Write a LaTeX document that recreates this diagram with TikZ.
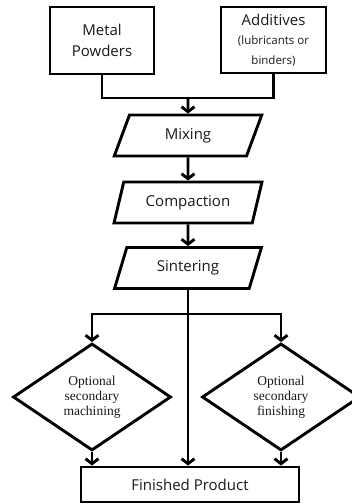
\documentclass[tikz,border=0pt]{standalone}
\usepackage{fontspec}
\setmainfont{Open Sans}
\newfontfamily\diafont{Liberation Serif}
\usetikzlibrary{arrows.meta,shapes.geometric}

\begin{document}
\begin{tikzpicture}[
  x=1pt,y=-1pt,
  line width=2.9pt,
  >={Straight Barb[length=5pt,width=13pt]},
  every node/.style={text=black!90},
  srcbox/.style={draw,align=center,inner sep=2pt,
                 font=\fontsize{15}{21}\selectfont},
  stepbox/.style={draw,trapezium,trapezium left angle=72,
                  trapezium right angle=108,trapezium stretches=true,
                  minimum width=148pt,minimum height=41pt,
                  font=\fontsize{15}{18}\selectfont},
  optbox/.style={draw,diamond,aspect=1.48,inner sep=0pt,
                 minimum width=158pt,minimum height=107pt,align=center,
                 font=\diafont\fontsize{13.5}{15}\selectfont},
]
\useasboundingbox (0,0) rectangle (352,504);

% ---- top: the two inputs ----
\node[srcbox,minimum width=104pt,minimum height=67pt] (metal) at (102,40.5)
     {Metal\\Powders};
\node[srcbox,minimum width=105pt,minimum height=66pt] (addit) at (273.5,40)
     {Additives\\[-2pt]
      \fontsize{11.5}{18}\selectfont (lubricants or\\[-1pt]
      \fontsize{11.5}{18}\selectfont binders)};

% ---- middle: the main process steps ----
\node[stepbox] (mix)  at (188,135.5) {Mixing};
\node[stepbox] (comp) at (188,202.5) {Compaction};
\node[stepbox] (sint) at (188,268)   {Sintering};

% ---- bottom: optional operations and the product ----
\node[optbox] (mach)   at (92,397)  {Optional\\secondary\\machining};
\node[optbox] (finish) at (281,397) {Optional\\secondary\\finishing};
\node[srcbox,minimum width=218pt,minimum height=35pt] (product) at (190,484.5)
     {Finished Product};

% inputs merge into mixing
\coordinate (merge) at (188,98);
\draw (metal.south) |- (merge) -| (addit.south);
\draw[->] (merge) -- (mix);

% main chain
\draw[->] (mix) -- (comp);
\draw[->] (comp) -- (sint);

% sintering splits three ways
\coordinate (split) at (188,314);
\draw (sint) -- (split);
\draw[->] (split) -| (mach.north);
\draw[->] (split) -| (finish.north);
\draw[->] (split) -- (split |- product.north);

% optional steps feed the product
\draw[->] (mach.south) -- (mach.south |- product.north);
\draw[->] (finish.south) -- (finish.south |- product.north);

\end{tikzpicture}
\end{document}
